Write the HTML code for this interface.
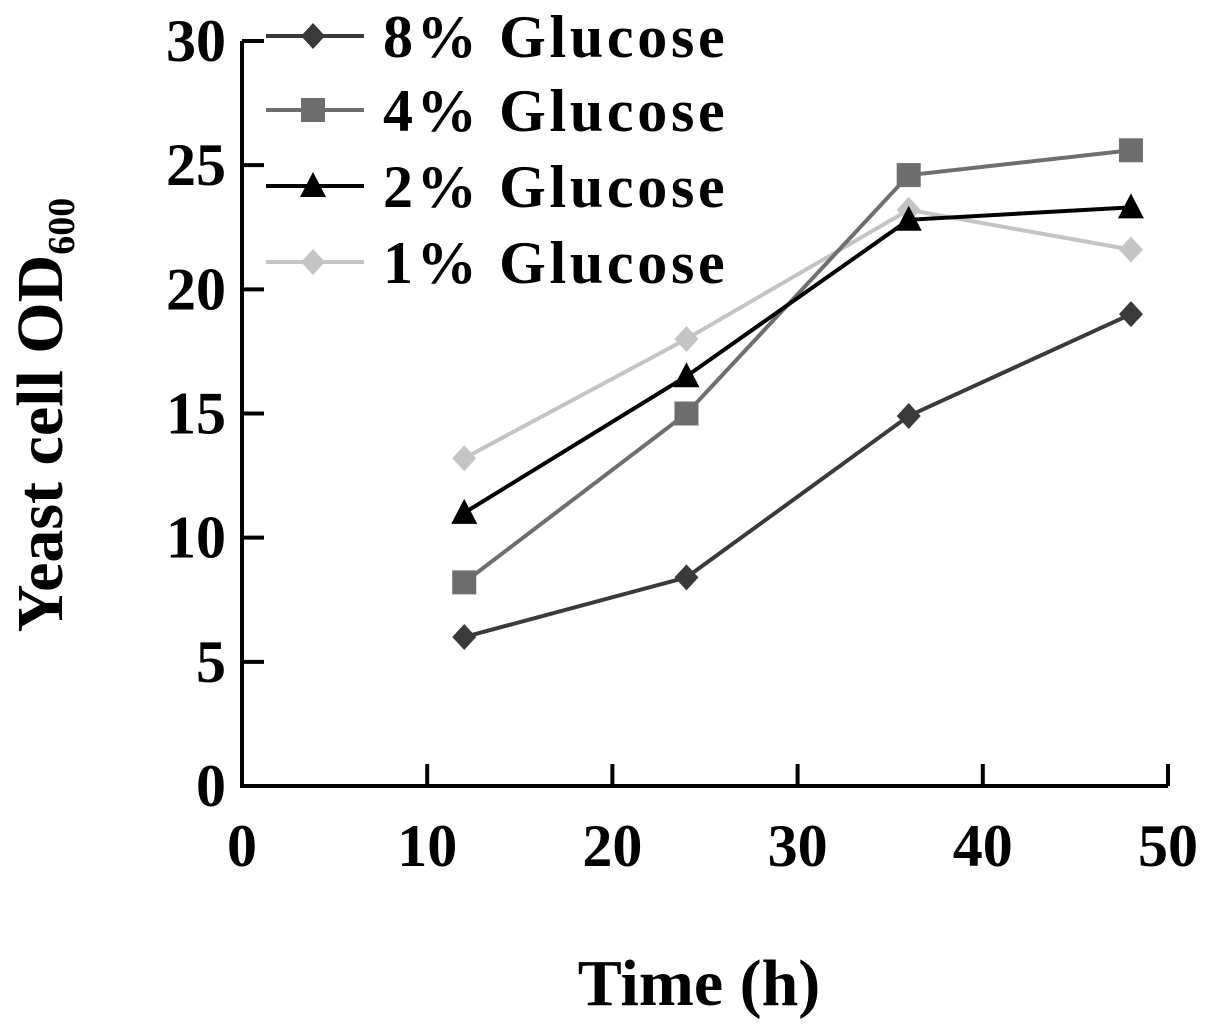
<!DOCTYPE html>
<html><head><meta charset="utf-8"><style>
body{margin:0;background:#fff}
svg text{font-family:"Liberation Serif",serif;font-weight:bold;fill:#000}
</style></head><body>
<svg id="chart" width="1205" height="1031" viewBox="0 0 1205 1031">
<g id="axes"></g><g id="series"></g><g id="legend"></g>
<text x="699" y="1005" font-size="66" text-anchor="middle">Time (h)</text>
<text transform="translate(62,415) rotate(-90)" font-size="66" text-anchor="middle">Yeast cell OD<tspan font-size="38" dy="12">600</tspan></text>
</svg>
<script>
const xValues=[12,24,36,48];
const seriesNames=["8% Glucose","4% Glucose","2% Glucose","1% Glucose"];
const s8=[6.0,8.4,14.9,19.0];
const s4=[8.2,15.0,24.6,25.6];
const s2=[11.0,16.5,22.8,23.3];
const s1=[13.2,18.0,23.2,21.6];
const xTicks=[0,10,20,30,40,50];
const yTicks=[0,5,10,15,20,25,30];
const NS="http://www.w3.org/2000/svg";
const X0=242,X1=1168,Y0=786,Y1=41;
const xs=v=>X0+(X1-X0)*v/50;
const ys=v=>Y0-(Y0-Y1)*v/30;
function mk(t,a,p){const e=document.createElementNS(NS,t);for(const k in a)e.setAttribute(k,a[k]);p.appendChild(e);return e;}
const axes=document.getElementById('axes');
let ax=mk('path',{d:`M${X0},${Y1} V${Y0} H${X1}`,fill:'none',stroke:'#000','stroke-width':4},axes);


xTicks.forEach(v=>{
 if(v>0){const t=mk('line',{x1:xs(v),x2:xs(v),y1:Y0,y2:Y0-22,stroke:'#000','stroke-width':4},axes);
 
 }
 const l=mk('text',{x:xs(v),y:866,'font-size':60,'text-anchor':'middle'},axes);l.textContent=v;
 
 
});
yTicks.forEach(v=>{
 if(v>0){const t=mk('line',{x1:X0,x2:X0+22,y1:ys(v),y2:ys(v),stroke:'#000','stroke-width':4},axes);
 
 }
 const l=mk('text',{x:226,y:ys(v)+20,'font-size':60,'text-anchor':'end'},axes);l.textContent=v;
 
 
});
const colors=['#3a3a3a','#6e6e6e','#000','#c4c4c4'];
const shapes=['diamond','square','triangle','diamond'];
const data=[s8,s4,s2,s1];
function marker(shape,x,y,c,p){
 if(shape==='diamond')return mk('polygon',{points:`${x},${y-13} ${x+12},${y} ${x},${y+13} ${x-12},${y}`,fill:c},p);
 if(shape==='square')return mk('rect',{x:x-12,y:y-12,width:24,height:24,fill:c},p);
 return mk('polygon',{points:`${x},${y-14} ${x+13},${y+11} ${x-13},${y+11}`,fill:c},p);
}
const sg=document.getElementById('series');
[3,0,1,2].forEach(i=>{
 const g=mk('g',{},sg);
 
 
 const pl=mk('polyline',{points:xValues.map((x,j)=>xs(x)+','+ys(data[i][j])).join(' '),fill:'none',stroke:colors[i],'stroke-width':4},g);
 
 
 xValues.forEach((x,j)=>{const m=marker(shapes[i],xs(x),ys(data[i][j]),colors[i],g);
  
  });
});
const lg=document.getElementById('legend');
[36,110,186,262].forEach((y,i)=>{
 const g=mk('g',{},lg);
 
 
 mk('line',{x1:266,x2:364,y1:y,y2:y,stroke:colors[i],'stroke-width':4},g);
 marker(shapes[i],313,y,colors[i],g);
 const t=mk('text',{x:383,y:y+21,'font-size':60,'letter-spacing':3.7},g);t.textContent=seriesNames[i];
});
</script>
</body></html>
